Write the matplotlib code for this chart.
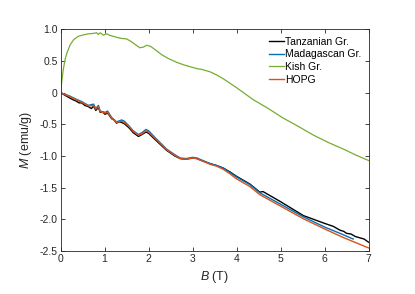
import matplotlib
matplotlib.use("Agg")
import matplotlib.pyplot as plt

plt.rcParams['font.family'] = ['Liberation Sans', 'DejaVu Sans']
plt.rcParams['mathtext.fontset'] = 'custom'
plt.rcParams['mathtext.it'] = 'Liberation Sans:italic'
plt.rcParams['mathtext.rm'] = 'Liberation Sans'

# Kish graphite
kish_B = [0, 0.03, 0.06, 0.1, 0.15, 0.22, 0.3, 0.4, 0.5, 0.63, 0.75, 0.82, 0.86,
          0.9, 0.97, 1.05, 1.12, 1.2, 1.3, 1.39, 1.5, 1.6, 1.7,
          1.8, 1.88, 1.96, 2.05, 2.15, 2.3, 2.45, 2.64, 2.8, 2.95, 3.1, 3.2,
          3.4, 3.55, 3.7, 4.0, 4.38, 4.7, 5.06, 5.4, 5.75, 6.1, 6.43, 6.7, 7.0]
kish_M = [0.0, 0.2, 0.36, 0.52, 0.64, 0.76, 0.84, 0.89, 0.91, 0.93, 0.937, 0.947, 0.92,
          0.947, 0.91, 0.93, 0.905, 0.89, 0.87, 0.857, 0.85, 0.81, 0.76,
          0.71, 0.72, 0.75, 0.73, 0.68, 0.60, 0.54, 0.48, 0.44, 0.41, 0.38, 0.37,
          0.33, 0.28, 0.22, 0.08, -0.11, -0.24, -0.40, -0.53, -0.67, -0.79, -0.89, -0.98, -1.07]

# HOPG
hopg_B = [0, 0.2, 0.35, 0.48, 0.63, 0.75, 0.8, 0.86, 0.9, 1.01, 1.07, 1.16, 1.27,
          1.39, 1.45, 1.55, 1.65, 1.77, 1.85, 1.94, 2.0, 2.15, 2.41, 2.6,
          2.72, 2.85, 3.0, 3.1, 3.2, 3.4, 3.55, 3.7, 3.85, 4.0, 4.3, 4.53, 5.0,
          5.52, 6.0, 6.44, 7.0]
hopg_M = [0.0, -0.06, -0.11, -0.15, -0.21, -0.20, -0.26, -0.22, -0.30, -0.32, -0.31, -0.40, -0.47,
          -0.45, -0.47, -0.53, -0.61, -0.67, -0.65, -0.60, -0.62, -0.72, -0.90, -0.99,
          -1.04, -1.05, -1.03, -1.04, -1.07, -1.13, -1.16, -1.21, -1.28, -1.36, -1.48, -1.61, -1.79,
          -1.99, -2.15, -2.29, -2.45]

# Madagascan graphite
mada_B = [0, 0.2, 0.35, 0.48, 0.63, 0.75, 0.8, 0.86, 0.9, 1.01, 1.07, 1.16, 1.27,
          1.39, 1.45, 1.55, 1.65, 1.77, 1.85, 1.94, 2.0, 2.15, 2.41, 2.6,
          2.72, 2.85, 3.0, 3.1, 3.2, 3.4, 3.55, 3.7, 3.85, 4.0, 4.3, 4.53, 5.0,
          5.52, 6.0, 6.35, 6.65]
mada_M = [0.0, -0.05, -0.10, -0.14, -0.20, -0.18, -0.25, -0.20, -0.29, -0.31, -0.29, -0.39, -0.46,
          -0.43, -0.45, -0.52, -0.60, -0.66, -0.63, -0.58, -0.60, -0.71, -0.89, -0.98,
          -1.03, -1.04, -1.02, -1.03, -1.06, -1.12, -1.15, -1.19, -1.26, -1.33, -1.45, -1.58, -1.76,
          -1.96, -2.12, -2.22, -2.31]

# Tanzanian graphite
tanz_B = [0, 0.1, 0.2, 0.28, 0.35, 0.42, 0.48, 0.55, 0.63, 0.7, 0.75, 0.8, 0.86, 0.9,
          0.95, 1.01, 1.07, 1.12, 1.16, 1.22, 1.27, 1.33, 1.39, 1.45, 1.55, 1.65,
          1.77, 1.85, 1.94, 2.0, 2.15, 2.41, 2.6, 2.72, 2.85, 3.0, 3.1, 3.2,
          3.4, 3.55, 3.7, 3.85, 4.0, 4.3, 4.53, 4.6, 5.0, 5.52, 5.99, 6.2, 6.3, 6.35,
          6.44, 6.5, 6.6, 6.7, 6.8, 6.9, 7.0]
tanz_M = [0.0, -0.04, -0.08, -0.11, -0.13, -0.16, -0.16, -0.20, -0.22, -0.25, -0.21, -0.28, -0.23, -0.31,
          -0.30, -0.34, -0.32, -0.37, -0.41, -0.43, -0.48, -0.46, -0.47, -0.49, -0.55, -0.63,
          -0.69, -0.66, -0.62, -0.64, -0.74, -0.91, -1.00, -1.04, -1.05, -1.03, -1.04, -1.07,
          -1.12, -1.15, -1.19, -1.25, -1.32, -1.44, -1.57, -1.56, -1.72, -1.94, -2.06, -2.11, -2.15, -2.17,
          -2.19, -2.22, -2.23, -2.27, -2.29, -2.31, -2.36]

x_ticks = [0, 1, 2, 3, 4, 5, 6, 7]
y_ticks = [1.0, 0.5, 0, -0.5, -1.0, -1.5, -2.0, -2.5]
y_tick_labels = ['1.0', '0.5', '0', '-0.5', '-1.0', '-1.5', '-2.0', '-2.5']

fig = plt.figure(figsize=(4.15, 2.94), dpi=100)
ax = fig.add_axes([0.146, 0.146, 0.742, 0.754])

ax.plot(tanz_B, tanz_M, color='black', linewidth=1.0, label='Tanzanian Gr.')
ax.plot(mada_B, mada_M, color='#0072bd', linewidth=1.0, label='Madagascan Gr.')
ax.plot(kish_B, kish_M, color='#77ac30', linewidth=0.9, label='Kish Gr.')
ax.plot(hopg_B, hopg_M, color='#d95319', linewidth=1.0, label='HOPG')

ax.set_xlim(0, 7)
ax.set_ylim(-2.5, 1.0)
ax.set_xticks(x_ticks)
ax.set_yticks(y_ticks)
ax.set_yticklabels(y_tick_labels)
ax.tick_params(direction='in', length=3, width=0.6, top=True, right=True,
               labelsize=7.5, colors='#262626', pad=2)
for s in ax.spines.values():
    s.set_color('#262626')
    s.set_linewidth(0.6)

ax.set_xlabel('$B$ (T)', fontsize=9, color='#262626', labelpad=4)
ax.set_ylabel('$M$ (emu/g)', fontsize=9, color='#262626', labelpad=4)

ax.legend(loc='upper right', frameon=False, fontsize=7.5, handlelength=1.4,
          handletextpad=0.1, labelspacing=0.25, borderaxespad=0.3)

fig.savefig('out.png', dpi=100)
